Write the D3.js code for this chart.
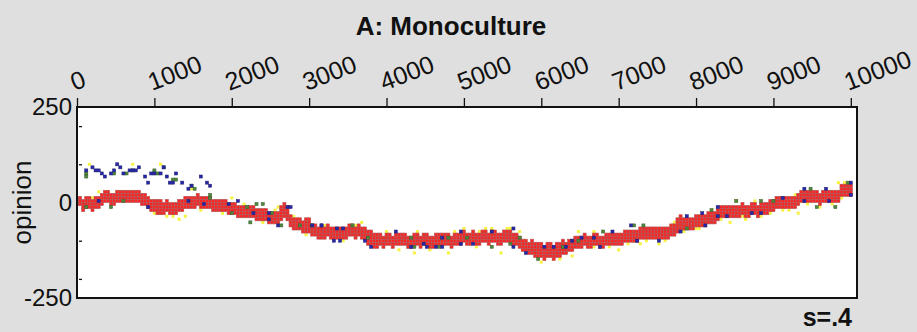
<!DOCTYPE html>
<html>
<head>
<meta charset="utf-8">
<script src="https://cdn.jsdelivr.net/npm/d3@7"></script>
<style>
  html, body { margin: 0; padding: 0; background: #dfdfdf; }
  svg { display: block; }
</style>
</head>
<body>
<svg id="chart" width="917" height="332"></svg>
<script>
// Axis ticks
const xTicks = [0, 1000, 2000, 3000, 4000, 5000, 6000, 7000, 8000, 9000, 10000];
const yLabels = [-250, 0, 250];
const yMinor = [-200, -100, 100, 200];

// Sampled time steps (one column of cells every 40 steps)
const steps = d3.range(0, 10001, 40);

// Centre opinion of the main (red) cluster at each sampled step
const bandMid = [
  -4,-4,-8,-4,-4,-8,-4,0,
  8,12,12,8,8,12,12,12,12,12,16,12,12,8,4,
  -4,-8,-12,-16,-16,-16,-12,-16,-16,-16,-12,-8,-4,-4,
  0,0,4,0,0,-4,-4,
  -8,-8,-12,-8,-12,-16,-16,
  -20,-24,-24,-28,-24,-28,-28,-32,-32,-32,-36,
  -40,-44,-44,-40,
  -32,-28,-32,
  -48,-56,-60,-60,-64,-64,-68,
  -76,-76,-80,-80,-80,-76,-80,-84,-80,-80,-84,-80,-76,-76,-80,-76,-80,-84,
  -96,-100,-104,-104,-100,-104,-100,-100,-104,-100,-100,-96,-100,-104,
  -104,-100,-100,-104,-100,-100,-104,-104,-100,-100,-96,-100,-100,-104,-100,-96,
  -96,-92,-96,-96,-92,-96,-96,-92,-92,-96,-92,-92,-96,-96,-92,-88,-92,-96,-100,
  -108,-112,-116,-120,
  -124,-128,-132,-132,-136,-132,-132,-136,-132,-128,-124,
  -120,-116,-112,
  -108,-104,-104,-100,-104,-104,-100,-100,-104,-104,-100,-100,-100,-96,-96,-96,
  -92,-92,-88,-88,-88,-84,-84,-84,-80,-84,-80,-80,-80,-80,-80,-76,-76,
  -64,-60,-60,-60,-56,-56,-52,-52,-48,-48,-44,-44,-40,
  -32,-28,-28,-24,-24,-28,-24,-24,-20,-24,-24,-20,-20,-24,-20,-16,-16,-12,
  -8,-4,-4,0,-4,0,-4,0,
  8,12,12,16,12,12,12,8,12,12,16,12,12,16,
  28,32,32,32
];

// Number of opinion cells the red cluster covers at each sampled step
const bandRows = [
  3,3,4,4,4,4,4,4,4,4, 4,4,4,4,4,4,4,4,4,4, 4,4,4,4,4,4,5,5,4,4,
  4,4,4,4,4,4,4,4,4,4, 4,4,4,4,4,4,4,4,4,4, 4,4,4,4,4,4,4,4,4,4,
  4,4,4,4,4,4,5,5,5,4, 4,4,4,4,5,5,4,4,4,4, 4,4,4,4,4,4,4,4,4,4,
  4,4,4,4,5,5,5,5,4,4, 4,4,4,4,4,4,4,4,4,4, 4,4,4,4,4,4,4,4,4,4,
  4,4,4,4,4,4,4,4,4,4, 4,4,4,4,4,4,4,4,4,4, 4,4,4,4,4,4,4,5,5,5,
  5,5,5,5,5,5,5,5,4,4, 4,4,4,4,4,4,4,4,4,4, 4,4,4,4,4,4,4,4,4,4,
  4,4,4,4,4,4,4,4,4,4, 4,4,4,4,5,5,4,4,4,4, 4,4,4,4,4,4,4,4,4,4,
  4,4,4,4,4,4,4,4,4,4, 4,4,4,4,4,4,4,4,4,4, 4,4,4,4,4,4,4,4,4,4,
  4,4,4,4,4,4,4,4,4,4, 4
];

// Agents of the other groups, as [step, opinion]
const yellowPts = [
  [168,103],[711,96],[1072,98],
  [40,6],[103,14],[200,12],[297,25],[400,25],[517,30],[640,30],[760,30],[1000,-32],
  [1072,-27],[1163,-38],[1240,-38],[1300,-45],[1400,-40],[1499,33],[1600,-20],
  [1822,-14],[1880,-28],[2016,12],[2160,-8],[2400,-52],[2558,-17],[2584,-14],
  [2687,-12],[2790,-33],[2946,-85],[3200,-60],[3440,-100],[3600,-60],[3682,-51],
  [4005,-80],[4173,-124],[4341,-132],[4400,-80],[4560,-124],[4819,-130],[4880,-80],
  [5013,-67],[5160,-116],[5207,-77],[5297,-67],[5360,-72],[5465,-130],[5556,-67],
  [5600,-72],[5724,-80],[5982,-156],[6202,-116],[6240,-150],[6408,-137],[6499,-80],
  [6667,-80],[6667,-119],[6880,-120],[7016,-124],[7054,-85],[7120,-112],[7274,-111],
  [7360,-104],[7442,-67],[7532,-106],[7600,-100],[7662,-59],[7720,-56],[7840,-80],
  [8000,-72],[8049,-72],[8140,-27],[8200,-24],[8320,-48],[8437,-51],[8527,1],
  [8605,-38],[8640,-44],[8760,0],[8824,-33],[8960,-32],[9044,12],[9120,-20],
  [9212,-20],[9280,20],[9302,-27],[9440,-4],[9600,-12],[9760,-8],[9858,54],
  [9884,12],[9920,52]
];
const greenPts = [
  [129,77],[129,67],[478,75],[646,75],[736,82],[995,80],[1034,72],[1124,93],
  [1253,62],[1292,59],[1460,43],[1525,38],
  [129,-9],[426,-12],[594,7],[1718,14],[1718,22],[2015,-27],[2196,-12],[2235,-51],
  [2300,-7],[2390,-7],[2520,-25],[2649,-64],[2881,-64],[3036,-64],[3566,-59],
  [3760,-90],[4328,-90],[4367,-119],[4690,-119],[4780,-90],[5039,-90],[5375,-116],
  [5594,-106],[5724,-90],[5943,-150],[6266,-116],[6499,-103],[6783,-80],[7184,-59],
  [7300,-59],[7881,-67],[8217,-20],[8501,1],[8824,1],[8992,7],[9496,33],[9574,-9],
  [9793,-9],[9948,54]
];
const bluePts = [
  [129,85],[194,93],[233,82],[284,80],[323,72],[375,67],[426,77],[478,82],[530,96],
  [568,93],[607,77],[672,80],[711,82],[775,85],[814,93],[866,64],[904,51],[956,77],
  [1008,75],[1072,77],[1111,88],[1163,64],[1201,54],[1253,51],[1292,72],[1356,51],
  [1421,35],[1486,43],[1615,67],[1680,54],[1718,43],
  [297,1],[904,-12],[1434,1],[1628,-1],[1977,-7],[2080,1],[2274,-27],[2468,-46],
  [2494,-27],[2597,-59],[2726,-14],[2752,-14],[3036,-59],[3140,-59],[3178,-62],
  [3308,-98],[3372,-67],[3398,-98],[3424,-67],[3721,-98],[3811,-116],[4134,-77],
  [4328,-119],[4470,-106],[4522,-116],[4651,-116],[4729,-90],[4729,-116],[4974,-77],
  [4974,-111],[5103,-106],[5375,-77],[5633,-67],[5659,-116],[5814,-130],[6021,-119],
  [6150,-119],[6331,-116],[6409,-98],[6525,-90],[6693,-93],[6757,-116],[6925,-80],
  [7171,-59],[7235,-98],[7532,-98],[7791,-80],[7881,-38],[8088,-27],[8114,-59],
  [8282,-12],[8282,-38],[8398,-38],[8734,-27],[8824,-27],[9109,12],[9380,1],
  [9406,33],[9690,33],[9703,1],[10000,51],[10000,20]
];

const W = 917, H = 332;
const FONT = "'Liberation Sans', Arial, Helvetica, sans-serif";
const svg = d3.select("#chart");

const x = d3.scaleLinear().domain([0, 10080]).range([77, 857]);
const y = d3.scaleLinear().domain([-250, 250]).range([298, 107]);

const STEP = 40;      // time between sampled columns
const CELL = 8;       // opinion units per cell
const colW = x(STEP) - x(0);
const cellH = y(0) - y(CELL);

// background and plotting area
svg.append("rect").attr("width", W).attr("height", H).attr("fill", "#dfdfdf");
svg.append("rect")
  .attr("x", x(0)).attr("y", y(250))
  .attr("width", x(10080) - x(0)).attr("height", y(-250) - y(250))
  .attr("fill", "#ffffff");

svg.append("defs").append("clipPath").attr("id", "plotClip")
  .append("rect")
  .attr("x", x(0)).attr("y", y(250))
  .attr("width", x(10080) - x(0)).attr("height", y(-250) - y(250));

const plot = svg.append("g").attr("clip-path", "url(#plotClip)");

// one grid cell for a given step column and opinion row
const cellOf = (t, k) => ({
  x: x(Math.round(t / STEP) * STEP) - colW / 2,
  y: y((k + 1) * CELL),
  w: colW,
  h: cellH
});

const pointCells = pts => pts.map(([t, v]) => cellOf(t, Math.floor(v / CELL)));

const bandCells = steps.flatMap((t, i) => {
  const r = Math.round(bandMid[i] / CELL);
  const n = bandRows[i];
  const lo = r - Math.floor(n / 2);
  return d3.range(lo, lo + n).map(k => cellOf(t, k));
});

function drawCells(cells, fill, stroke, sw, opacity) {
  plot.append("g")
    .selectAll("rect")
    .data(cells)
    .join("rect")
    .attr("x", d => d.x)
    .attr("y", d => d.y)
    .attr("width", d => d.w)
    .attr("height", d => d.h)
    .attr("fill", fill)
    .attr("fill-opacity", opacity)
    .attr("stroke", stroke)
    .attr("stroke-width", sw);
}

drawCells(pointCells(yellowPts), "#f6f23c", "none", 0, 0.95);
drawCells(bandCells, "#fa2424", "#b05858", 0.6, 1);
drawCells(pointCells(greenPts), "#4d8a3a", "#3d5a30", 0.5, 1);
drawCells(pointCells(bluePts), "#2626b0", "#222266", 0.5, 1);

// frame
svg.append("rect")
  .attr("x", x(0)).attr("y", y(250))
  .attr("width", x(10080) - x(0)).attr("height", y(-250) - y(250))
  .attr("fill", "none").attr("stroke", "#111").attr("stroke-width", 2);

// top axis with slanted labels
const gx = svg.append("g")
  .attr("transform", `translate(0,${y(250)})`)
  .call(d3.axisTop(x).tickValues(xTicks).tickSize(9).tickFormat(d => String(d)));
gx.select(".domain").remove();
gx.selectAll(".tick line").attr("stroke", "#111").attr("stroke-width", 1.3);
gx.selectAll(".tick text")
  .attr("x", 0).attr("y", 0).attr("dy", 0)
  .attr("text-anchor", "start")
  .attr("transform", "translate(-3,-16) rotate(-21)")
  .attr("fill", "#111")
  .style("font-family", FONT)
  .style("font-size", "25px");

// left axis labels
const gy = svg.append("g")
  .attr("transform", `translate(${x(0)},0)`)
  .call(d3.axisLeft(y).tickValues(yLabels).tickSize(0).tickPadding(5).tickFormat(d => String(d)));
gy.select(".domain").remove();
gy.selectAll(".tick text")
  .attr("fill", "#111")
  .style("font-family", FONT)
  .style("font-size", "24px");

// minor ticks crossing the left edge
const gm = svg.append("g")
  .attr("transform", `translate(${x(0)},0)`)
  .call(d3.axisLeft(y).tickValues(yMinor).tickSize(-5).tickFormat(""));
gm.select(".domain").remove();
gm.selectAll(".tick line").attr("x1", 2).attr("stroke", "#111").attr("stroke-width", 1.3);

// axis title
svg.append("text")
  .attr("transform", `translate(31,${y(0)}) rotate(-90)`)
  .attr("text-anchor", "middle")
  .attr("fill", "#111")
  .style("font-family", FONT)
  .style("font-size", "26px")
  .text("opinion");

// chart title
svg.append("text")
  .attr("x", 451).attr("y", 35)
  .attr("text-anchor", "middle")
  .attr("fill", "#111")
  .style("font-family", FONT)
  .style("font-size", "26px")
  .style("font-weight", "bold")
  .text("A: Monoculture");

// parameter note
svg.append("text")
  .attr("x", 852).attr("y", 326)
  .attr("text-anchor", "end")
  .attr("fill", "#111")
  .style("font-family", FONT)
  .style("font-size", "25px")
  .style("font-weight", "bold")
  .text("s=.4");
</script>
</body>
</html>
